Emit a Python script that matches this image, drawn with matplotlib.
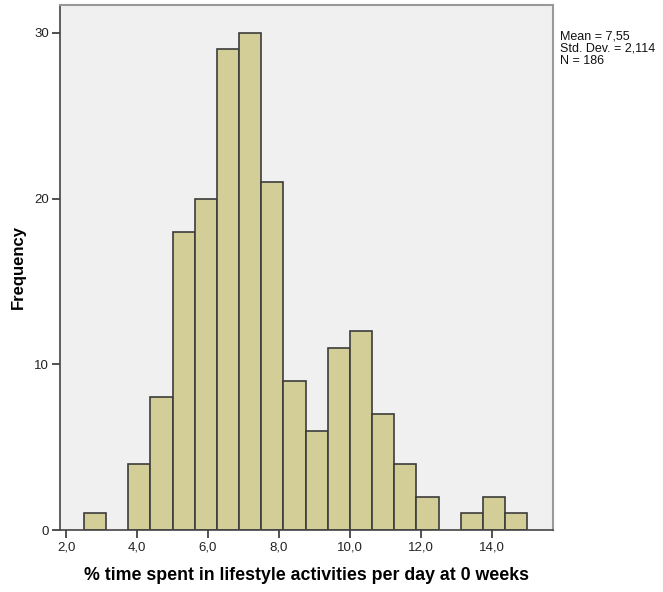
import numpy as np
import matplotlib
matplotlib.use('Agg')
import matplotlib.pyplot as plt

plt.rcParams['font.family'] = ['Liberation Sans', 'DejaVu Sans']

# histogram bins (edges) and counts
bin_edges = [2.5, 3.125, 3.75, 4.375, 5.0, 5.625, 6.25, 6.875, 7.5, 8.125,
             8.75, 9.375, 10.0, 10.625, 11.25, 11.875, 12.5, 13.125, 13.75,
             14.375, 15.0]
counts = [1, 0, 4, 8, 18, 20, 29, 30, 21, 9, 6, 11, 12, 7, 4, 2, 0, 1, 2, 1]
xticks = [2, 4, 6, 8, 10, 12, 14]
yticks = [0, 10, 20, 30]
stats_text = "Mean = 7,55\nStd. Dev. = 2,114\nN = 186"

fig = plt.figure(figsize=(6.63, 5.92), dpi=100)
ax = fig.add_axes([0.0905, 0.1047, 0.7435, 0.887])
ax.set_facecolor('#f0f0f0')

edges = np.array(bin_edges)
widths = np.diff(edges)
for left, w, c in zip(edges[:-1], widths, counts):
    if c > 0:
        ax.bar(left, c, width=w, align='edge', color='#d3ce97',
               edgecolor='#3c3c3c', linewidth=1.2)

ax.set_xlim(1.83, 15.72)
ax.set_ylim(0, 31.69)
ax.set_xticks(xticks)
ax.set_xticklabels([f"{x:.1f}".replace('.', ',') for x in xticks], fontsize=9.5, color='#222222')
ax.set_yticks(yticks)
ax.set_yticklabels([str(y) for y in yticks], fontsize=9.5, color='#222222')
ax.tick_params(length=6, width=1.2, color='#333333', pad=2)

for s in ['left', 'bottom']:
    ax.spines[s].set_color('#444444')
    ax.spines[s].set_linewidth(1.2)
for s in ['top', 'right']:
    ax.spines[s].set_color('#999999')
    ax.spines[s].set_linewidth(1.5)

ax.set_xlabel('% time spent in lifestyle activities per day at 0 weeks',
              fontsize=12.8, fontweight='bold', labelpad=10)
ax.set_ylabel('Frequency', fontsize=12, fontweight='bold')
ax.yaxis.set_label_coords(-0.07, 0.5)

fig.text(0.845, 0.948, stats_text, fontsize=9, va='top', ha='left',
         linespacing=1.0, color='#111111')

plt.savefig('out.png', dpi=100)
